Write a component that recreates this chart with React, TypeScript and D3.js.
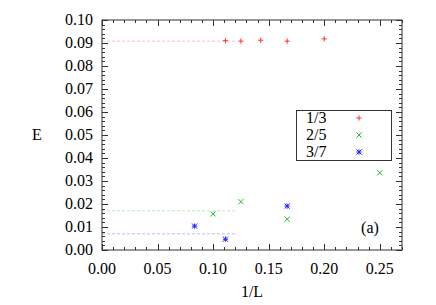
import React from "react";
import * as d3 from "d3";

// data
const xTicks = [0, 0.05, 0.1, 0.15, 0.2, 0.25];
const yTicks = [0, 0.01, 0.02, 0.03, 0.04, 0.05, 0.06, 0.07, 0.08, 0.09, 0.1];

const x13 = [1 / 9, 1 / 8, 1 / 7, 1 / 6, 1 / 5];
const y13 = [0.091, 0.0908, 0.0912, 0.0908, 0.0918];
const fit13 = 0.091;

const x25 = [1 / 10, 1 / 8, 1 / 6, 1 / 4];
const y25 = [0.0157, 0.021, 0.0134, 0.0336];
const fit25 = 0.01725;

const x37 = [1 / 12, 1 / 9, 1 / 6];
const y37 = [0.0104, 0.0047, 0.0191];
const fit37 = 0.00725;

const fitEnd = 0.121;

const series = [
  { name: "1/3", xs: x13, ys: y13, fit: fit13, color: "#ff3030", shape: "plus" },
  { name: "2/5", xs: x25, ys: y25, fit: fit25, color: "#20c020", shape: "cross" },
  { name: "3/7", xs: x37, ys: y37, fit: fit37, color: "#2020ff", shape: "star" },
];

const W = 436;
const H = 305;
const m = { left: 102, right: 34, top: 20, bottom: 55 };

const x = d3.scaleLinear().domain([0, 0.27]).range([m.left, W - m.right]);
const y = d3.scaleLinear().domain([0, 0.1]).range([H - m.bottom, m.top]);

const Marker = ({ cx, cy, shape, color }: any) => {
  const s = 2.6;
  const plus = (
    <path d={`M${cx - s},${cy}H${cx + s}M${cx},${cy - s}V${cy + s}`} />
  );
  const cross = (
    <path d={`M${cx - s},${cy - s}L${cx + s},${cy + s}M${cx - s},${cy + s}L${cx + s},${cy - s}`} />
  );
  return (
    <g stroke={color} strokeWidth={1} fill="none">
      {shape === "plus" || shape === "star" ? plus : null}
      {shape === "cross" || shape === "star" ? cross : null}
    </g>
  );
};

export default function App() {
  const font = "Liberation Serif";
  const x0 = x.range()[0], x1 = x.range()[1];
  const y0 = y.range()[0], y1 = y.range()[1];
  const xMinor = d3.range(0, 0.2701, 0.01);
  const yMinor = d3.range(0, 0.1001, 0.002);
  const axisColor = "#333";
  const ts = { fontFamily: font, fontSize: 16 };

  return (
    <svg width={W} height={H} style={{ position: "absolute", left: 0, top: 0, background: "#fff" }}>
      {/* fit lines */}
      {series.map((s) => (
        <line key={"fit" + s.name} x1={x(0)} x2={x(fitEnd)} y1={y(s.fit) + 0.5} y2={y(s.fit) + 0.5}
          stroke={s.color} strokeOpacity={0.3} strokeWidth={1} strokeDasharray="3,2" />
      ))}

      {/* ticks */}
      <g stroke={axisColor} strokeWidth={1}>
        {xMinor.map((v, i) => {
          const major = i % 5 === 0;
          const len = major ? 6 : 3;
          const px = Math.round(x(v)) + 0.5;
          return (
            <g key={"xt" + i}>
              <line x1={px} x2={px} y1={y0} y2={y0 - len} />
              <line x1={px} x2={px} y1={y1} y2={y1 + len} />
            </g>
          );
        })}
        {yMinor.map((v, i) => {
          const major = i % 5 === 0;
          const len = major ? 6 : 3;
          const py = Math.round(y(v)) + 0.5;
          return (
            <g key={"yt" + i}>
              <line x1={x0} x2={x0 + len} y1={py} y2={py} />
              <line x1={x1} x2={x1 - len} y1={py} y2={py} />
            </g>
          );
        })}
      </g>

      {/* frame */}
      <rect x={x0} y={y1} width={x1 - x0} height={y0 - y1} fill="none" stroke={axisColor} strokeWidth={1} />

      {/* tick labels */}
      {xTicks.map((v) => (
        <text key={"xl" + v} x={x(v)} y={y0 + 24} textAnchor="middle" style={ts} fill="#000">
          {v.toFixed(2)}
        </text>
      ))}
      {yTicks.map((v) => (
        <text key={"yl" + v} x={x0 - 9} y={y(v)} dy="0.33em" textAnchor="end" style={ts} fill="#000">
          {v.toFixed(2)}
        </text>
      ))}

      {/* axis titles */}
      <text x={(x0 + x1) / 2} y={H - 8} textAnchor="middle" style={ts}>1/L</text>
      <text x={37} y={(y0 + y1) / 2} dy="0.33em" textAnchor="middle" style={ts}>E</text>

      {/* points */}
      {series.map((s) =>
        s.xs.map((v, i) => (
          <Marker key={s.name + i} cx={x(v)} cy={y(s.ys[i])} shape={s.shape} color={s.color} />
        ))
      )}

      {/* legend */}
      <rect x={296.5} y={110.5} width={95} height={50} fill="#fff" stroke={axisColor} strokeWidth={1} />
      {series.map((s, i) => (
        <g key={"lg" + s.name}>
          <text x={306} y={118 + i * 17} dy="0.33em" style={ts}>{s.name}</text>
          <Marker cx={359} cy={118 + i * 17} shape={s.shape} color={s.color} />
        </g>
      ))}

      <text x={370} y={228} dy="0.33em" textAnchor="middle" style={ts}>(a)</text>
    </svg>
  );
}
